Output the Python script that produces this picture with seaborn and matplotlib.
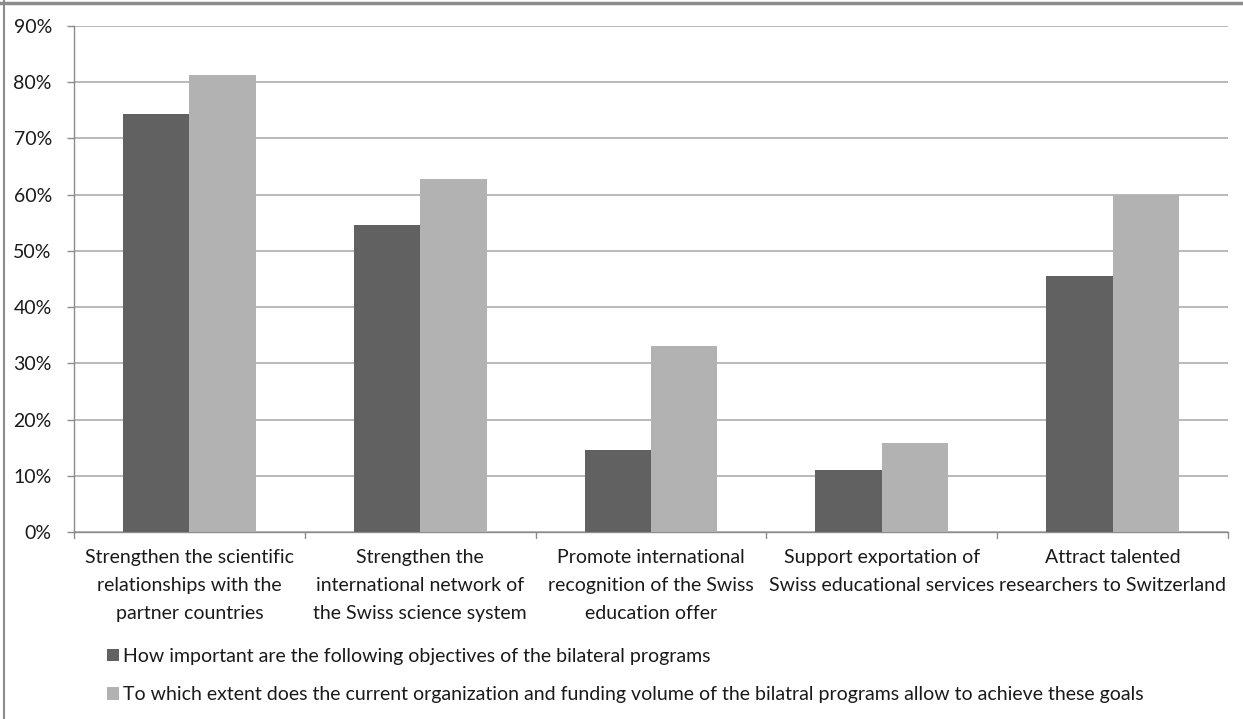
import matplotlib
matplotlib.use("Agg")
import matplotlib.pyplot as plt
from matplotlib.lines import Line2D
from matplotlib.patches import Patch
import seaborn as sns
import pandas as pd

categories = [
    "Strengthen the scientific\nrelationships with the\npartner countries",
    "Strengthen the\ninternational network of\nthe Swiss science system",
    "Promote international\nrecognition of the Swiss\neducation offer",
    "Support exportation of\nSwiss educational services",
    "Attract talented\nresearchers to Switzerland",
]
series_names = [
    "How important are the following objectives of the bilateral programs",
    "To which extent does the current organization and funding volume of the bilatral programs allow to achieve these goals",
]
importance = [74.4, 54.6, 14.5, 11.1, 45.5]
achievement = [81.3, 62.8, 33.0, 15.9, 60.0]
y_ticks = [0, 10, 20, 30, 40, 50, 60, 70, 80, 90]

colors = ["#616161", "#b2b2b2"]

df = pd.DataFrame({
    "objective": categories * 2,
    "series": [series_names[0]] * len(categories) + [series_names[1]] * len(categories),
    "value": importance + achievement,
})

sns.set_theme(style="white")
plt.rcParams["font.family"] = ["Lato", "DejaVu Sans"]
plt.rcParams["text.color"] = "#1a1a1a"

FS = 14

fig = plt.figure(figsize=(12.43, 7.19), dpi=100)
ax = fig.add_axes([74 / 1243, 1 - 532 / 719, (1228 - 74) / 1243, (532 - 26) / 719])

sns.barplot(
    data=df, x="objective", y="value", hue="series",
    palette=colors, width=0.575, gap=0, dodge=True,
    saturation=1, linewidth=0, ax=ax, legend=False, zorder=3,
)

ax.set_ylim(0, 90)
ax.set_xlim(-0.5, len(categories) - 0.5)
ax.set_yticks(y_ticks)
ax.set_yticklabels([f"{t}%" for t in y_ticks], fontsize=FS, color="#1a1a1a")
ax.yaxis.grid(True, color="#a6a6a6", linewidth=1.1, zorder=0)
ax.set_axisbelow(True)
ax.set_xlabel("")
ax.set_ylabel("")

# category labels centred under each group, boundary ticks between groups
ax.set_xticks(range(len(categories)))
ax.set_xticklabels(categories, fontsize=FS, color="#1a1a1a", linespacing=1.78, va="top")
ax.tick_params(axis="x", length=0, pad=12)
ax.tick_params(axis="y", length=5, width=1, color="#8c8c8c", pad=11, left=True)
for b in [i - 0.5 for i in range(len(categories) + 1)]:
    ax.plot([b, b], [0, -1.1], color="#8c8c8c", linewidth=1, clip_on=False,
            transform=ax.transData)

for side in ["top", "right"]:
    ax.spines[side].set_visible(False)
for side in ["left", "bottom"]:
    ax.spines[side].set_color("#8c8c8c")
    ax.spines[side].set_linewidth(1)

handles = [Patch(facecolor=c, edgecolor="none") for c in colors]
fig.legend(
    handles, series_names, loc="upper left",
    bbox_to_anchor=(107 / 1243, 1 - 648 / 719), bbox_transform=fig.transFigure,
    frameon=False, fontsize=FS, handlelength=0.62, handleheight=0.62,
    handletextpad=0.2, labelspacing=1.1, borderpad=0, borderaxespad=0,
)

# chart-area border along the top and left edges
fig.add_artist(Line2D([0, 1], [1 - 2.5 / 719] * 2, transform=fig.transFigure,
                      color="#8c8c8c", linewidth=2.5))
fig.add_artist(Line2D([4 / 1243] * 2, [0, 1], transform=fig.transFigure,
                      color="#8c8c8c", linewidth=1.5))

fig.savefig("out.png", dpi=100)
